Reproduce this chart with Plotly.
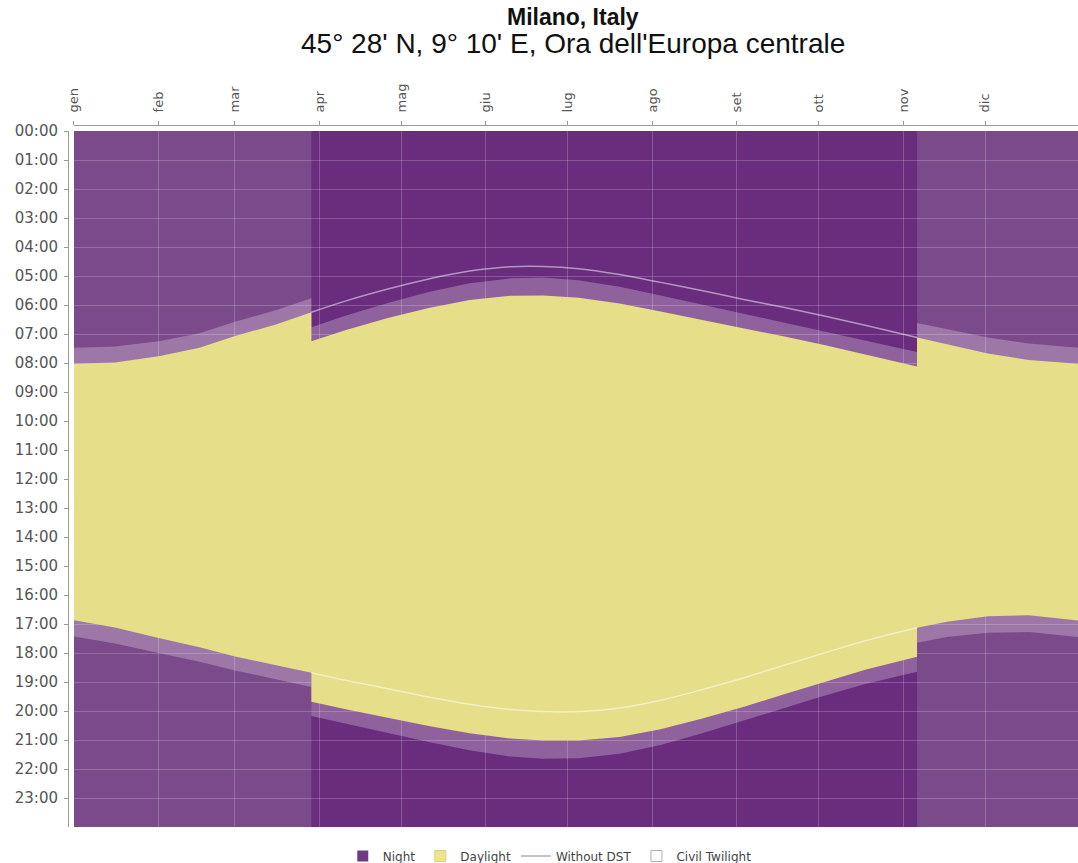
import plotly.graph_objects as go

# Milano, times in standard time (CET), decimal hours
DAYS = [0, 15, 31, 46, 59, 74, 87, 100, 115, 130, 145, 160, 172,
        185, 200, 215, 230, 245, 260, 275, 290, 309, 320, 335, 350, 368]
SUNRISE = [8.03, 7.98, 7.77, 7.47, 7.07, 6.67, 6.25, 5.85, 5.45, 5.10, 4.83, 4.68, 4.67,
           4.75, 4.95, 5.22, 5.50, 5.80, 6.08, 6.38, 6.70, 7.12, 7.35, 7.67, 7.90, 8.03]
SUNSET = [16.87, 17.12, 17.48, 17.80, 18.12, 18.42, 18.68, 18.95, 19.23, 19.52, 19.77, 19.95, 20.02,
          20.02, 19.90, 19.63, 19.27, 18.87, 18.43, 18.00, 17.58, 17.13, 16.92, 16.73, 16.70, 16.88]
DAWN = [7.47, 7.43, 7.25, 6.97, 6.58, 6.18, 5.77, 5.35, 4.93, 4.55, 4.25, 4.08, 4.05,
        4.15, 4.37, 4.67, 4.98, 5.30, 5.60, 5.90, 6.22, 6.62, 6.83, 7.12, 7.33, 7.47]
DUSK = [17.43, 17.67, 18.00, 18.30, 18.60, 18.90, 19.17, 19.45, 19.75, 20.07, 20.35, 20.57, 20.65,
        20.63, 20.47, 20.17, 19.78, 19.35, 18.90, 18.47, 18.07, 17.65, 17.45, 17.30, 17.28, 17.45]

DST_START = 87
DST_END = 309
YEAR_END = 368

MONTH_DAYS = [0, 31, 59, 90, 120, 151, 181, 212, 243, 273, 304, 334]
MONTHS = ["gen", "feb", "mar", "apr", "mag", "giu", "lug", "ago", "set", "ott", "nov", "dic"]
HOURS = list(range(24))
HOUR_LABELS = [f"{h:02d}:00" for h in HOURS]

NIGHT = "#7b4a8b"
NIGHT_DST = "#6a2c7d"
DAY = "#e6de88"
TWILIGHT = "rgba(255,255,255,0.25)"
NO_DST = "rgba(255,255,255,0.5)"
GRID = "rgba(255,255,255,0.2)"
AXIS = "#9a9a9a"


def clock(vals):
    # shift by one hour while DST is in effect, with a vertical step at both ends
    xs, ys = [], []
    for d, v in zip(DAYS, vals):
        if d == DST_START:
            xs += [d, d]
            ys += [v, v + 1]
        elif d == DST_END:
            xs += [d, d]
            ys += [v + 1, v]
        elif DST_START < d < DST_END:
            xs.append(d)
            ys.append(v + 1)
        else:
            xs.append(d)
            ys.append(v)
    return xs, ys


fig = go.Figure()

for lower, upper, color in [(DAWN, DUSK, TWILIGHT), (SUNRISE, SUNSET, DAY)]:
    x1, y1 = clock(lower)
    x2, y2 = clock(upper)
    fig.add_trace(go.Scatter(x=x1, y=y1, mode="lines", line=dict(width=0),
                             showlegend=False, hoverinfo="skip"))
    fig.add_trace(go.Scatter(x=x2, y=y2, mode="lines", line=dict(width=0),
                             fill="tonexty", fillcolor=color, showlegend=False, hoverinfo="skip"))

# sunrise / sunset without daylight saving
for vals in (SUNRISE, SUNSET):
    x = [d for d in DAYS if DST_START <= d <= DST_END]
    y = [v for d, v in zip(DAYS, vals) if DST_START <= d <= DST_END]
    fig.add_trace(go.Scatter(x=x, y=y, mode="lines", line=dict(color=NO_DST, width=1.5, shape="spline"),
                             showlegend=False, hoverinfo="skip"))

# legend entries
fig.add_trace(go.Scatter(x=[None], y=[None], mode="markers", name="Night",
                         marker=dict(symbol="square", size=11, color="#6e3a80")))
fig.add_trace(go.Scatter(x=[None], y=[None], mode="markers", name="Daylight",
                         marker=dict(symbol="square", size=11, color="#eee58a", line=dict(color="#d8d08a", width=1))))
fig.add_trace(go.Scatter(x=[None], y=[None], mode="lines", name="Without DST",
                         line=dict(color="#c4c4c4", width=2)))
fig.add_trace(go.Scatter(x=[None], y=[None], mode="markers", name="Civil Twilight",
                         marker=dict(symbol="square", size=11, color="white", line=dict(color="#b0b0b0", width=1))))

# darker night while DST is in effect
fig.add_shape(type="rect", xref="x", yref="y", x0=DST_START, x1=DST_END, y0=0, y1=24,
              fillcolor=NIGHT_DST, line_width=0, layer="below")

fig.add_annotation(text="<b>Milano, Italy</b>", xref="paper", yref="paper", x=0.5, y=1.1538,
                   xanchor="center", yanchor="middle", showarrow=False,
                   font=dict(size=23, color="#111", family="Liberation Sans, Arial"))
fig.add_annotation(text="45° 28' N, 9° 10' E, Ora dell'Europa centrale", xref="paper", yref="paper",
                   x=0.5, y=1.1168, xanchor="center", yanchor="middle", showarrow=False,
                   font=dict(size=28, color="#111", family="Liberation Sans, Arial"))

fig.update_xaxes(side="top", anchor="free", position=1, domain=[0.00594, 1],
                 range=[0, YEAR_END], tickvals=MONTH_DAYS, ticktext=MONTHS, tickangle=-90,
                 ticks="outside", ticklen=4, tickcolor=AXIS, ticklabelstandoff=6,
                 showline=True, linecolor=AXIS, linewidth=1,
                 showgrid=True, gridcolor=GRID, gridwidth=1, automargin=False,
                 zeroline=False, tickfont=dict(size=13, color="#555", family="DejaVu Sans"))
fig.update_yaxes(anchor="free", position=0, domain=[0, 0.99145],
                 range=[24, 0], tickvals=HOURS, ticktext=HOUR_LABELS,
                 ticks="outside", ticklen=4, tickcolor=AXIS, ticklabelstandoff=3,
                 showline=True, linecolor=AXIS, linewidth=1,
                 showgrid=True, gridcolor=GRID, gridwidth=1, automargin=False,
                 zeroline=False, tickfont=dict(size=15, color="#555", family="DejaVu Sans"))

fig.update_layout(
    width=1078, height=863,
    margin=dict(l=68, r=0, t=125, b=36, autoexpand=False),
    plot_bgcolor=NIGHT, paper_bgcolor="white",
    legend=dict(orientation="h", traceorder="normal", x=0.477, xanchor="center", y=-0.0413, yanchor="middle",
                font=dict(size=12, color="#444", family="DejaVu Sans"),
                itemwidth=30),
    showlegend=True,
)

fig.write_html("out.html", config={"displayModeBar": False},
               post_script="document.body.style.margin='0';")
